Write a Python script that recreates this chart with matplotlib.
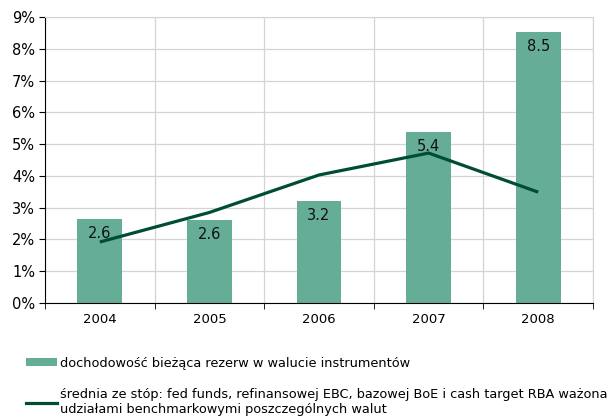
import numpy as np
import matplotlib
matplotlib.use("Agg")
from matplotlib import pyplot as plt
from matplotlib.lines import Line2D
from matplotlib.patches import Patch

years = ["2004", "2005", "2006", "2007", "2008"]
yield_vals = [2.65, 2.62, 3.22, 5.38, 8.52]
yield_labels = ["2.6", "2.6", "3.2", "5.4", "8.5"]
rate_vals = [1.92, 2.85, 4.03, 4.72, 3.49]

bar_color = "#66ad98"
line_color = "#004d35"
grid_color = "#d4d4d4"

plt.rcParams['font.family'] = ['DejaVu Sans']

fig = plt.figure(figsize=(6.14, 4.17), dpi=100)
ax = fig.add_axes([0.0733, 0.2734, 0.8925, 0.6856])

x = np.arange(len(years))
ax.bar(x, yield_vals, width=0.41, color=bar_color, zorder=2)
ax.plot(x, rate_vals, color=line_color, lw=2.3, zorder=3, solid_capstyle='butt')

for xi, v, lab in zip(x, yield_vals, yield_labels):
    ax.annotate(lab, (xi, v), xytext=(0, -5), textcoords="offset points",
                ha="center", va="top", fontsize=10.5, color="#111111", zorder=4)

ax.set_xlim(-0.5, len(years) - 0.5)
ax.set_ylim(0, 9)
ax.set_yticks(np.arange(0, 10, 1))
ax.set_yticklabels([f"{i}%" for i in range(10)], fontsize=10.5)
ax.set_xticks(x)
ax.set_xticklabels(years, fontsize=9.5)
ax.tick_params(axis="x", length=0, pad=7)
ax.set_xticks(np.arange(-0.5, len(years), 1), minor=True)
ax.tick_params(axis="x", which="minor", length=4, direction="out", color="black")
ax.tick_params(axis="y", length=4, direction="out", color="black", pad=3)

ax.grid(axis="y", color=grid_color, lw=0.9, zorder=0)
ax.grid(axis="x", which="minor", color=grid_color, lw=0.9, zorder=0)
ax.set_axisbelow(True)

ax.spines["left"].set_color("black")
ax.spines["bottom"].set_color("black")
ax.spines["top"].set_color(grid_color)
ax.spines["right"].set_color(grid_color)

handles = [Patch(facecolor=bar_color, edgecolor="none"),
           Line2D([0], [0], color=line_color, lw=2.3)]
labels = ["dochodowość bieżąca rezerw w walucie instrumentów",
          "średnia ze stóp: fed funds, refinansowej EBC, bazowej BoE i cash target RBA ważona\nudziałami benchmarkowymi poszczególnych walut"]
fig.legend(handles, labels, loc="upper left", bbox_to_anchor=(0.042, 0.145),
           frameon=False, fontsize=9.3, handlelength=2.4, handleheight=0.65,
           handletextpad=0.25, labelspacing=1.45, borderaxespad=0, borderpad=0)

fig.savefig("out.png", dpi=100)
